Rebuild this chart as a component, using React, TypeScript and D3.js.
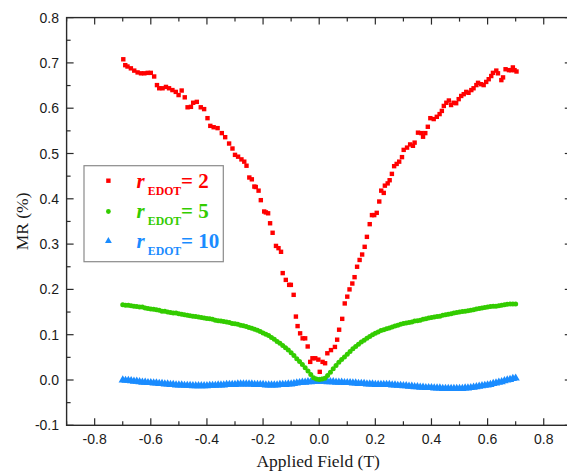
import React from "react";
import * as d3 from "d3";

// ---------- data ----------
const xTickValues = [-0.8, -0.6, -0.4, -0.2, 0.0, 0.2, 0.4, 0.6, 0.8];
const xTickLabels = ["-0.8", "-0.6", "-0.4", "-0.2", "0.0", "0.2", "0.4", "0.6", "0.8"];
const yTickValues = [-0.1, 0.0, 0.1, 0.2, 0.3, 0.4, 0.5, 0.6, 0.7, 0.8];
const yTickLabels = ["-0.1", "0.0", "0.1", "0.2", "0.3", "0.4", "0.5", "0.6", "0.7", "0.8"];

// r_EDOT = 2 (red squares)
const redField = [
  -0.698, -0.691, -0.683, -0.671, -0.659, -0.647, -0.635, -0.623, -0.611, -0.6,
  -0.588, -0.578, -0.57, -0.558, -0.546, -0.535, -0.523, -0.511, -0.501, -0.49,
  -0.479, -0.469, -0.457, -0.449, -0.436, -0.422, -0.41, -0.398, -0.388, -0.376,
  -0.362, -0.347, -0.335, -0.321, -0.309, -0.3, -0.289, -0.277, -0.267, -0.259,
  -0.249, -0.24, -0.231, -0.226, -0.216, -0.208, -0.196, -0.19, -0.182, -0.175,
  -0.166, -0.154, -0.145, -0.136, -0.13, -0.119, -0.107, -0.101, -0.091, -0.083,
  -0.077, -0.068, -0.059, -0.05, -0.041, -0.032, -0.024, -0.014, -0.003, 0.002,
  0.012, 0.021, 0.029, 0.042, 0.056, 0.064, 0.071, 0.082, 0.091, 0.1,
  0.108, 0.118, 0.126, 0.135, 0.144, 0.153, 0.162, 0.17, 0.18, 0.188,
  0.196, 0.205, 0.214, 0.221, 0.23, 0.234, 0.244, 0.251, 0.259, 0.267,
  0.276, 0.285, 0.295, 0.301, 0.313, 0.324, 0.334, 0.34, 0.352, 0.364,
  0.37, 0.378, 0.387, 0.396, 0.408, 0.419, 0.429, 0.437, 0.444, 0.453,
  0.462, 0.47, 0.479, 0.488, 0.497, 0.506, 0.515, 0.524, 0.532, 0.542,
  0.55, 0.56, 0.566, 0.577, 0.586, 0.595, 0.604, 0.613, 0.619, 0.631,
  0.637, 0.649, 0.655, 0.664, 0.676, 0.684, 0.69, 0.696, 0.703,
];
const redMR = [
  0.708, 0.695, 0.692, 0.688, 0.683, 0.679, 0.677, 0.677, 0.678, 0.678,
  0.67, 0.651, 0.644, 0.644, 0.647, 0.644, 0.64, 0.636, 0.629, 0.639,
  0.624, 0.602, 0.603, 0.612, 0.614, 0.602, 0.598, 0.578, 0.561, 0.558,
  0.556, 0.545, 0.536, 0.522, 0.511, 0.497, 0.493, 0.487, 0.482, 0.473,
  0.447, 0.443, 0.427, 0.426, 0.418, 0.397, 0.372, 0.37, 0.368, 0.346,
  0.325, 0.296, 0.291, 0.283, 0.236, 0.221, 0.21, 0.21, 0.188, 0.14,
  0.119, 0.103, 0.092, 0.092, 0.074, 0.04, 0.048, 0.048, 0.045, 0.018,
  0.04, 0.037, 0.059, 0.066, 0.073, 0.089, 0.111, 0.135, 0.169, 0.184,
  0.2, 0.213, 0.227, 0.25, 0.265, 0.277, 0.294, 0.316, 0.344, 0.364,
  0.364, 0.369, 0.394, 0.418, 0.413, 0.429, 0.434, 0.441, 0.455, 0.472,
  0.477, 0.482, 0.492, 0.508, 0.513, 0.52, 0.517, 0.524, 0.546, 0.545,
  0.537, 0.545, 0.559, 0.578, 0.576, 0.581, 0.587, 0.594, 0.605, 0.612,
  0.617, 0.607, 0.612, 0.611, 0.62, 0.627, 0.631, 0.636, 0.634, 0.64,
  0.644, 0.651, 0.656, 0.653, 0.651, 0.658, 0.664, 0.671, 0.678, 0.683,
  0.677, 0.662, 0.668, 0.686, 0.684, 0.684, 0.69, 0.684, 0.681,
];

// field sweep for the dense series (-0.70 T ... 0.70 T, 0.01 T steps)
const denseField = d3.range(-70, 71).map((i) => i / 100);

// r_EDOT = 5 (green circles)
const greenMR = [
  0.166, 0.165, 0.165, 0.164, 0.163, 0.162, 0.161, 0.161, 0.159, 0.158,
  0.157, 0.156, 0.155, 0.154, 0.152, 0.152, 0.15, 0.149, 0.148, 0.148,
  0.146, 0.145, 0.144, 0.143, 0.142, 0.141, 0.14, 0.139, 0.138, 0.137,
  0.136, 0.135, 0.134, 0.132, 0.131, 0.13, 0.129, 0.128, 0.127, 0.125,
  0.124, 0.123, 0.121, 0.12, 0.118, 0.116, 0.114, 0.112, 0.11, 0.107,
  0.104, 0.101, 0.098, 0.094, 0.09, 0.085, 0.081, 0.076, 0.071, 0.066,
  0.06, 0.054, 0.047, 0.041, 0.034, 0.027, 0.02, 0.012, 0.005, 0.002,
  0.001,
  0.002, 0.004, 0.01, 0.017, 0.025, 0.032, 0.039, 0.045, 0.051, 0.057,
  0.063, 0.069, 0.074, 0.079, 0.084, 0.088, 0.092, 0.096, 0.1, 0.103,
  0.106, 0.109, 0.111, 0.113, 0.115, 0.117, 0.119, 0.121, 0.123, 0.125,
  0.126, 0.127, 0.128, 0.13, 0.131, 0.132, 0.134, 0.135, 0.137, 0.138,
  0.139, 0.14, 0.141, 0.143, 0.144, 0.145, 0.146, 0.148, 0.149, 0.15,
  0.151, 0.152, 0.153, 0.154, 0.155, 0.157, 0.158, 0.159, 0.16, 0.161,
  0.162, 0.163, 0.163, 0.164, 0.165, 0.166, 0.167, 0.168, 0.168, 0.168,
];

// r_EDOT = 10 (blue triangles)
const blueMR = [
  0.0, -0.001, -0.001, -0.002, -0.003, -0.003, -0.004, -0.005, -0.005, -0.006,
  -0.006, -0.007, -0.007, -0.008, -0.008, -0.009, -0.009, -0.01, -0.01, -0.011,
  -0.011, -0.011, -0.012, -0.012, -0.012, -0.013, -0.013, -0.013, -0.013, -0.013,
  -0.013, -0.012, -0.012, -0.012, -0.011, -0.011, -0.011, -0.01, -0.01, -0.01,
  -0.01, -0.009, -0.009, -0.009, -0.009, -0.009, -0.009, -0.01, -0.01, -0.01,
  -0.01, -0.011, -0.011, -0.011, -0.011, -0.011, -0.01, -0.01, -0.01, -0.009,
  -0.009, -0.008, -0.007, -0.006, -0.005, -0.005, -0.004, -0.004, -0.003, -0.003,
  -0.003,
  -0.003, -0.003, -0.004, -0.004, -0.004, -0.005, -0.005, -0.005, -0.006, -0.006,
  -0.006, -0.007, -0.007, -0.008, -0.008, -0.008, -0.009, -0.009, -0.009, -0.01,
  -0.01, -0.01, -0.01, -0.01, -0.01, -0.011, -0.011, -0.012, -0.012, -0.013,
  -0.013, -0.014, -0.014, -0.015, -0.015, -0.016, -0.016, -0.017, -0.017, -0.017,
  -0.018, -0.018, -0.018, -0.019, -0.019, -0.019, -0.019, -0.019, -0.019, -0.019,
  -0.019, -0.018, -0.018, -0.017, -0.016, -0.015, -0.014, -0.013, -0.012, -0.011,
  -0.01, -0.008, -0.007, -0.005, -0.004, -0.002, 0.0, 0.001, 0.003, 0.004,
];

const seriesNames = ["2", "5", "10"];
const seriesColors = ["#ff0000", "#33cc00", "#1a8cff"];

// ---------- layout ----------
const W = 567;
const H = 476;
const SANS = "'Liberation Sans', Arial, sans-serif";
const SERIF = "'Liberation Serif', 'Times New Roman', serif";

export default function App() {
  const x = d3.scaleLinear().domain([-0.9, 0.9]).range([66.6, 571.8]);
  const y = d3.scaleLinear().domain([-0.1, 0.8]).range([425.3, 17.6]);
  const [x0, x1] = x.range();
  const [yB, yT] = y.range();

  const xMinor = d3.range(-9, 10).map((i) => i / 10).filter((v) => Math.abs(Math.round(v * 10)) % 2 === 1);
  const yMinor = d3.range(-1, 8).map((i) => i / 10 + 0.05);

  const tri = d3.symbol().type(d3.symbolTriangle).size(30)();
  const triLegend = d3.symbol().type(d3.symbolTriangle).size(20)();

  const axisColor = "#2a2a2a";

  const red = redField.map((f, i) => ({ f, v: redMR[i] }));
  const green = denseField.map((f, i) => ({ f, v: greenMR[i] }));
  const blue = denseField.map((f, i) => ({ f, v: blueMR[i] }));

  const legendRows = [188.3, 218.3, 248.3];

  return (
    <svg
      width={W}
      height={H}
      viewBox={`0 0 ${W} ${H}`}
      style={{ position: "absolute", left: 0, top: 0, background: "#fff" }}
    >
      <rect x={0} y={0} width={W} height={H} fill="#fff" />

      {/* data: blue triangles */}
      <g fill={seriesColors[2]}>
        {blue.map((d, i) => (
          <path key={i} d={tri} transform={`translate(${x(d.f)},${y(d.v)})`} />
        ))}
      </g>
      {/* data: green circles */}
      <g fill={seriesColors[1]}>
        {green.map((d, i) => (
          <circle key={i} cx={x(d.f)} cy={y(d.v)} r={2.5} />
        ))}
      </g>
      {/* data: red squares */}
      <g fill={seriesColors[0]}>
        {red.map((d, i) => (
          <rect key={i} x={x(d.f) - 2.2} y={y(d.v) - 2.2} width={4.4} height={4.4} />
        ))}
      </g>

      {/* frame */}
      <rect x={x0} y={yT} width={x1 - x0} height={yB - yT} fill="none" stroke={axisColor} strokeWidth={1.4} />

      {/* ticks (inward on all four sides) */}
      <g stroke={axisColor} strokeWidth={1.2}>
        {xTickValues.map((v, i) => (
          <g key={"xm" + i}>
            <line x1={x(v)} x2={x(v)} y1={yB} y2={yB - 7} />
            <line x1={x(v)} x2={x(v)} y1={yT} y2={yT + 7} />
          </g>
        ))}
        {xMinor.map((v, i) => (
          <g key={"xn" + i}>
            <line x1={x(v)} x2={x(v)} y1={yB} y2={yB - 4} />
            <line x1={x(v)} x2={x(v)} y1={yT} y2={yT + 4} />
          </g>
        ))}
        {yTickValues.map((v, i) => (
          <g key={"ym" + i}>
            <line x1={x0} x2={x0 + 7} y1={y(v)} y2={y(v)} />
            <line x1={x1} x2={x1 - 7} y1={y(v)} y2={y(v)} />
          </g>
        ))}
        {yMinor.map((v, i) => (
          <g key={"yn" + i}>
            <line x1={x0} x2={x0 + 4} y1={y(v)} y2={y(v)} />
            <line x1={x1} x2={x1 - 4} y1={y(v)} y2={y(v)} />
          </g>
        ))}
      </g>

      {/* tick labels */}
      <g fontFamily={SANS} fontSize={14} fill="#1a1a1a">
        {xTickValues.map((v, i) => (
          <text key={"xl" + i} x={x(v)} y={444} textAnchor="middle">
            {xTickLabels[i]}
          </text>
        ))}
        {yTickValues.map((v, i) => (
          <text key={"yl" + i} x={59} y={y(v) + 5} textAnchor="end">
            {yTickLabels[i]}
          </text>
        ))}
      </g>

      {/* axis titles */}
      <text x={(x(-0.9) + x(0.9)) / 2 - 1} y={467} textAnchor="middle" fontFamily={SERIF} fontSize={17.5} fill="#1a1a1a">
        Applied Field (T)
      </text>
      <text
        transform={`translate(27.5,${(yT + yB) / 2}) rotate(-90)`}
        textAnchor="middle"
        fontFamily={SERIF}
        fontSize={17.5}
        fill="#1a1a1a"
      >
        MR (%)
      </text>

      {/* legend */}
      <rect x={84} y={165.7} width={139.3} height={96} fill="#fff" stroke="#8a8a8a" strokeWidth={1.2} />
      <rect x={106.2} y={legendRows[0] - 9.8} width={4.4} height={4.4} fill={seriesColors[0]} />
      <circle cx={108.4} cy={legendRows[1] - 6.8} r={2.4} fill={seriesColors[1]} />
      <path d={triLegend} transform={`translate(108.4,${legendRows[2] - 7.3})`} fill={seriesColors[2]} />
      {seriesNames.map((n, i) => (
        <text key={"lg" + i} y={legendRows[i]} fontFamily={SERIF} fontWeight="bold" fill={seriesColors[i]}>
          <tspan x={136.5} fontStyle="italic" fontSize={21}>r</tspan>
          <tspan x={147.8} dy={6.7} fontSize={11.8}>EDOT</tspan>
          <tspan x={181} dy={-6.7} fontSize={21}>{"= " + n}</tspan>
        </text>
      ))}
    </svg>
  );
}
